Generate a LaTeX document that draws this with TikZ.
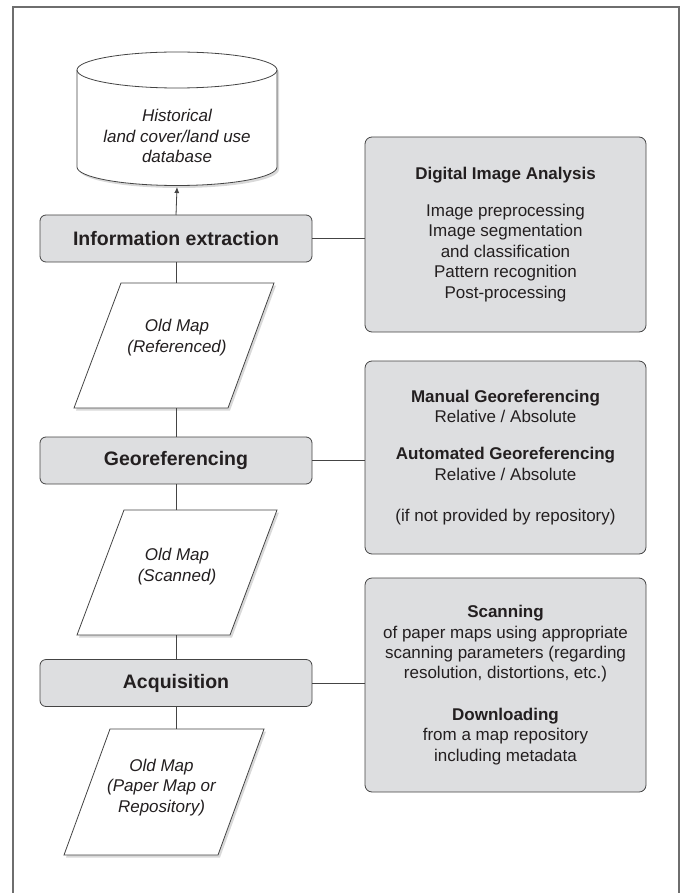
\documentclass[tikz,border=0pt]{standalone}
\usepackage{fontspec}
\setmainfont{Liberation Sans}
\usetikzlibrary{arrows.meta,shadows}
\definecolor{boxfill}{RGB}{221,222,224}
\definecolor{edge}{RGB}{68,68,68}
\definecolor{framegray}{RGB}{110,110,110}
\definecolor{ink}{RGB}{35,31,32}

\begin{document}
\begin{tikzpicture}[x=1pt,y=1pt,
  stage/.style={draw=edge, line width=0.8pt, fill=boxfill, rounded corners=6pt,
    minimum width=272pt, minimum height=47pt, inner sep=0pt, outer sep=0pt,
    font=\fontsize{19.5}{23}\selectfont\bfseries, text=ink},
  detail/.style={draw=edge, line width=0.8pt, fill=boxfill, rounded corners=7pt,
    minimum width=281pt, inner sep=0pt, outer sep=0pt, align=center,
    font=\fontsize{17}{20.4}\selectfont, text=ink},
  holder/.style={draw=none, inner sep=0pt, outer sep=0pt},
  doc/.style={draw=edge, line width=0.8pt, fill=white,
    drop shadow={shadow xshift=2pt, shadow yshift=-2.5pt, opacity=0.3}},
  label/.style={align=center, font=\fontsize{17}{20.8}\selectfont\itshape, text=ink},
  link/.style={draw=edge, line width=0.8pt},
]
\useasboundingbox (0,0) rectangle (683,-893);

% outer frame, open at the bottom
\draw[framegray, line width=2pt] (13,-895) -- (13,-7) -- (679,-7) -- (679,-895);

% database cylinder
\node[holder, minimum width=200pt, minimum height=133pt] (db) at (177,-118.5) {};
\coordinate (dbbase) at (177,-187);
\draw[doc] (77,-70) -- (77,-167)
  arc[start angle=180, end angle=360, x radius=100, y radius=18.5]
  -- (277,-70)
  arc[start angle=0, end angle=180, x radius=100, y radius=18] -- cycle;
\draw[link] (77,-70) arc[start angle=180, end angle=360, x radius=100, y radius=18];
\node[label] (dbtext) at (177,-136) {Historical\\land cover/land use\\database};

% process stages
\node[stage] (info) at (176,-238.5) {Information extraction};
\node[stage] (geo)  at (176,-460.5) {Georeferencing};
\node[stage] (acq)  at (176,-683)   {Acquisition};

% map documents (parallelograms)
\node[holder, minimum width=200pt, minimum height=125pt] (m1) at (174,-345.5) {};
\draw[doc] ([xshift=47pt]m1.north west) -- (m1.north east)
  -- ([xshift=-46pt]m1.south east) -- (m1.south west) -- cycle;
\node[label] (t1) at (177,-337.5) {Old Map\\(Referenced)};

\node[holder, minimum width=200pt, minimum height=125pt] (m2) at (177,-572.5) {};
\draw[doc] ([xshift=47pt]m2.north west) -- (m2.north east)
  -- ([xshift=-47pt]m2.south east) -- (m2.south west) -- cycle;
\node[label] (t2) at (177,-566.5) {Old Map\\(Scanned)};

\node[holder, minimum width=200pt, minimum height=126pt] (m3) at (164,-792) {};
\draw[doc] ([xshift=46pt]m3.north west) -- (m3.north east)
  -- ([xshift=-46pt]m3.south east) -- (m3.south west) -- cycle;
\node[label] (t3) at (161.5,-787.5) {Old Map\\(Paper Map or\\Repository)};

% method descriptions
\node[detail, minimum height=195pt] (dia) at (505.5,-234.5)
  {\textbf{Digital Image Analysis}\\[16.6pt]
   Image preprocessing\\Image segmentation\\and classification\\
   Pattern recognition\\Post-processing};
\node[detail, minimum height=193pt] (geod) at (505.5,-457.5)
  {\textbf{Manual Georeferencing}\\Relative / Absolute\\[16.6pt]
   \textbf{Automated Georeferencing}\\Relative / Absolute\\[21pt]
   (if not provided by repository)};
\node[detail, minimum height=214pt] (acqd) at (505.5,-685)
  {\textbf{Scanning}\\of paper maps using appropriate\\
   scanning parameters (regarding\\resolution, distortions, etc.)\\[21pt]
   \textbf{Downloading}\\from a map repository\\including metadata};

% flow connectors
\draw[link, -{Latex[length=6pt,width=5pt]}, fill=edge] (info.north) -- (dbbase);
\draw[link] (info.south) -- (info.south |- m1.north);
\draw[link] (geo.north |- m1.south) -- (geo.north);
\draw[link] (geo.south) -- (geo.south |- m2.north);
\draw[link] (acq.north |- m2.south) -- (acq.north);
\draw[link] (acq.south) -- (acq.south |- m3.north);

% links to the method descriptions
\draw[link] (info.east) -- (info.east -| dia.west);
\draw[link] (geo.east) -- (geo.east -| geod.west);
\draw[link] (acq.east) -- (acq.east -| acqd.west);
\end{tikzpicture}
\end{document}
